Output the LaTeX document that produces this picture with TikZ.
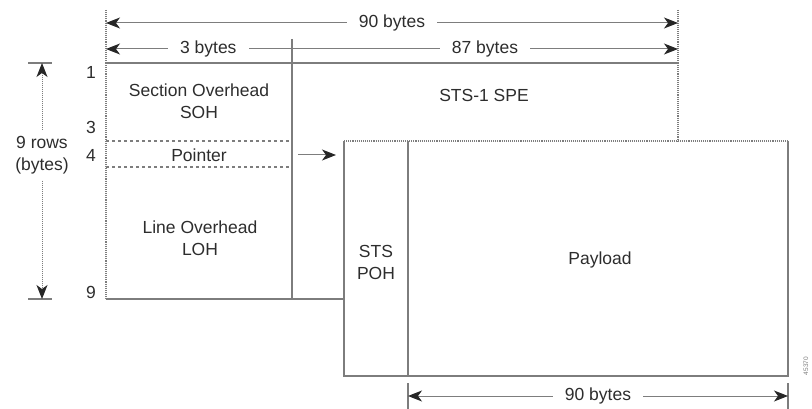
\documentclass[tikz,border=0pt]{standalone}
\usepackage{fontspec}
\setmainfont{Liberation Sans}
\usetikzlibrary{arrows.meta}
\definecolor{linegray}{RGB}{125,125,125}
\definecolor{textgray}{RGB}{45,45,45}
\tikzset{
	frameline/.style={draw=linegray, line width=1.1pt},
	hiddenline/.style={frameline, densely dotted},
	bytetip/.tip={Stealth[length=14pt,width=11pt,inset=4pt,color=black!85]},
	dimline/.style={draw=linegray, line width=1pt},
	lbl/.style={text=textgray, font=\fontsize{17.5}{22}\selectfont, align=center, inner sep=1pt},
	gaplbl/.style={lbl, fill=white, inner xsep=12pt, inner ysep=2pt}
}
\newcommand{\Tick}[5]{
	\coordinate (#1t) at (#2,#3);
	\coordinate (#1b) at (#2,#4);
	\draw[#5] (#1t) -- (#1b);
}
\begin{document}
\begin{tikzpicture}[x=1pt,y=-1pt]
	\useasboundingbox (0,0) rectangle (812,409);
	% back frame
	\coordinate (SA) at (106,63);
	\coordinate (SB) at (678,63);
	\coordinate (SC) at (678,141);
	\coordinate (SD) at (106,299);
	\coordinate (SE) at (344,299);
	\coordinate (DA) at (292,39);
	\coordinate (DB) at (292,299);
	\coordinate (PA) at (106,141);
	\coordinate (PB) at (292,141);
	\coordinate (PC) at (106,167);
	\coordinate (PD) at (292,167);
	\draw[frameline] (SA) -- (SB);
	\draw[hiddenline] (SB) -- (SC);
	\draw[hiddenline] (SA) -- (SD);
	\draw[frameline] (SD) -- (SE);
	\draw[frameline] (DA) -- (DB);
	\draw[frameline, dashed] (PA) -- (PB);
	\draw[frameline, dashed] (PC) -- (PD);
	% front frame
	\coordinate (FA) at (344,141);
	\coordinate (FB) at (788,141);
	\coordinate (FC) at (788,376);
	\coordinate (FD) at (344,376);
	\coordinate (FE) at (408,141);
	\coordinate (FF) at (408,376);
	\draw[hiddenline] (FA) -- (FB);
	\draw[frameline] (FB) -- (FC) -- (FD) -- (FA);
	\draw[frameline] (FE) -- (FF);
	% ticks
	\Tick{L}{106}{10}{63}{hiddenline}
	\Tick{R}{678}{10}{63}{hiddenline}
	\Tick{BL}{408}{383}{409}{frameline}
	\Tick{BR}{788}{383}{409}{frameline}
	\coordinate (TopL) at (106,23);
	\coordinate (TopR) at (678,23);
	\coordinate (MidL) at (106,49);
	\coordinate (MidM) at (292,49);
	\coordinate (MidR) at (678,49);
	\coordinate (BotL) at (408,396);
	\coordinate (BotR) at (788,396);
	\draw[dimline,bytetip-bytetip] (TopL) -- (TopR) node[midway, gaplbl] (total) {90 bytes};
	\draw[dimline,bytetip-] (MidL) -- (MidM) node[pos=.55, gaplbl] (toh) {3 bytes};
	\draw[dimline,-bytetip] (MidM) -- (MidR) node[midway, gaplbl] (spe) {87 bytes};
	\draw[dimline,bytetip-bytetip] (BotL) -- (BotR) node[midway, gaplbl] (payw) {90 bytes};
	% rows
	\coordinate (RA) at (28,63);
	\coordinate (RB) at (52,63);
	\coordinate (RC) at (28,299);
	\coordinate (RD) at (52,299);
	\coordinate (RT) at (42,63);
	\coordinate (RBt) at (42,299);
	\draw[frameline] (RA) -- (RB);
	\draw[frameline] (RC) -- (RD);
	\draw[dimline,bytetip-bytetip,densely dotted] (RT) -- (RBt) node[pos=.39, gaplbl, inner xsep=1pt, inner ysep=6pt] (rows) {9 rows\\(bytes)};
	\node[lbl] (r1) at (91,72) {1};
	\node[lbl] (r3) at (91,127) {3};
	\node[lbl] (r4) at (91,155) {4};
	\node[lbl] (r9) at (91,292) {9};
	% labels
	\node[lbl] (soh) at (199,101) {Section Overhead\\SOH};
	\node[lbl] (ptr) at (199,155) {Pointer};
	\node[lbl] (loh) at (200,238) {Line Overhead\\LOH};
	\node[lbl] (stsspe) at (484,95) {STS-1 SPE};
	\node[lbl] (poh) at (376,262) {STS\\POH};
	\node[lbl] (pay) at (600,260) {Payload};
	\coordinate (PtrA) at (298,155);
	\coordinate (PtrB) at (336,155);
	\draw[dimline,-bytetip] (PtrA) -- (PtrB);
	\node[text=linegray, font=\fontsize{6.5}{7}\selectfont, rotate=90] (figid) at (806,366) {45370};
\end{tikzpicture}
\end{document}
